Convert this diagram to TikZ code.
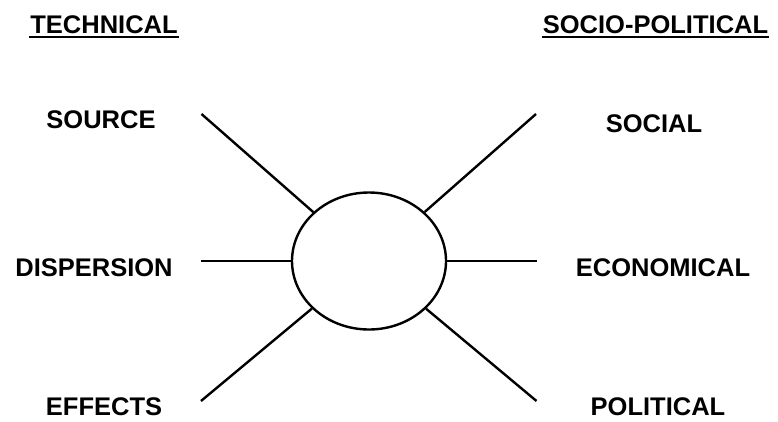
\documentclass[tikz,border=0pt]{standalone}
\usepackage{fontspec}
\setmainfont{Liberation Sans}
\usetikzlibrary{shapes.geometric}

\begin{document}
\begin{tikzpicture}[
    x=1pt, y=-1pt,
    line width=2.4pt,
    hub/.style={
        draw,
        ellipse,
        minimum width=154pt,
        minimum height=137pt,
        inner sep=0pt
    },
    label/.style={
        anchor=base,
        inner sep=0pt,
        font=\fontsize{25.5}{30}\selectfont\bfseries
    }
]
\useasboundingbox (0,0) rectangle (778,421);

% centre
\node[hub] (hub) at (369,261) {};

% headings
\node[label] (technical) at (104,33) {TECHNICAL};
\node[label] (sociopol) at (655.5,33) {SOCIO-POLITICAL};
\draw ([yshift=-4pt]technical.base west) -- ([yshift=-4pt]technical.base east);
\draw ([yshift=-4pt]sociopol.base west) -- ([yshift=-4pt]sociopol.base east);

% left side
\node[label] (source) at (101,128) {SOURCE};
\node[label] (dispersion) at (94,276) {DISPERSION};
\node[label] (effects) at (104,415) {EFFECTS};

% right side
\node[label] (social) at (654,132) {SOCIAL};
\node[label] (economical) at (663,276) {ECONOMICAL};
\node[label] (political) at (658,415) {POLITICAL};

% free ends of the spokes
\coordinate (sourceend) at (201.5,114);
\coordinate (dispend) at (201,261);
\coordinate (effectsend) at (201,401);
\coordinate (socialend) at (536,114);
\coordinate (econend) at (537,261);
\coordinate (politend) at (536.5,401);

\draw (sourceend) -- (hub);
\draw (dispend) -- (hub);
\draw (effectsend) -- (hub);
\draw (socialend) -- (hub);
\draw (econend) -- (hub);
\draw (politend) -- (hub);

\end{tikzpicture}
\end{document}
